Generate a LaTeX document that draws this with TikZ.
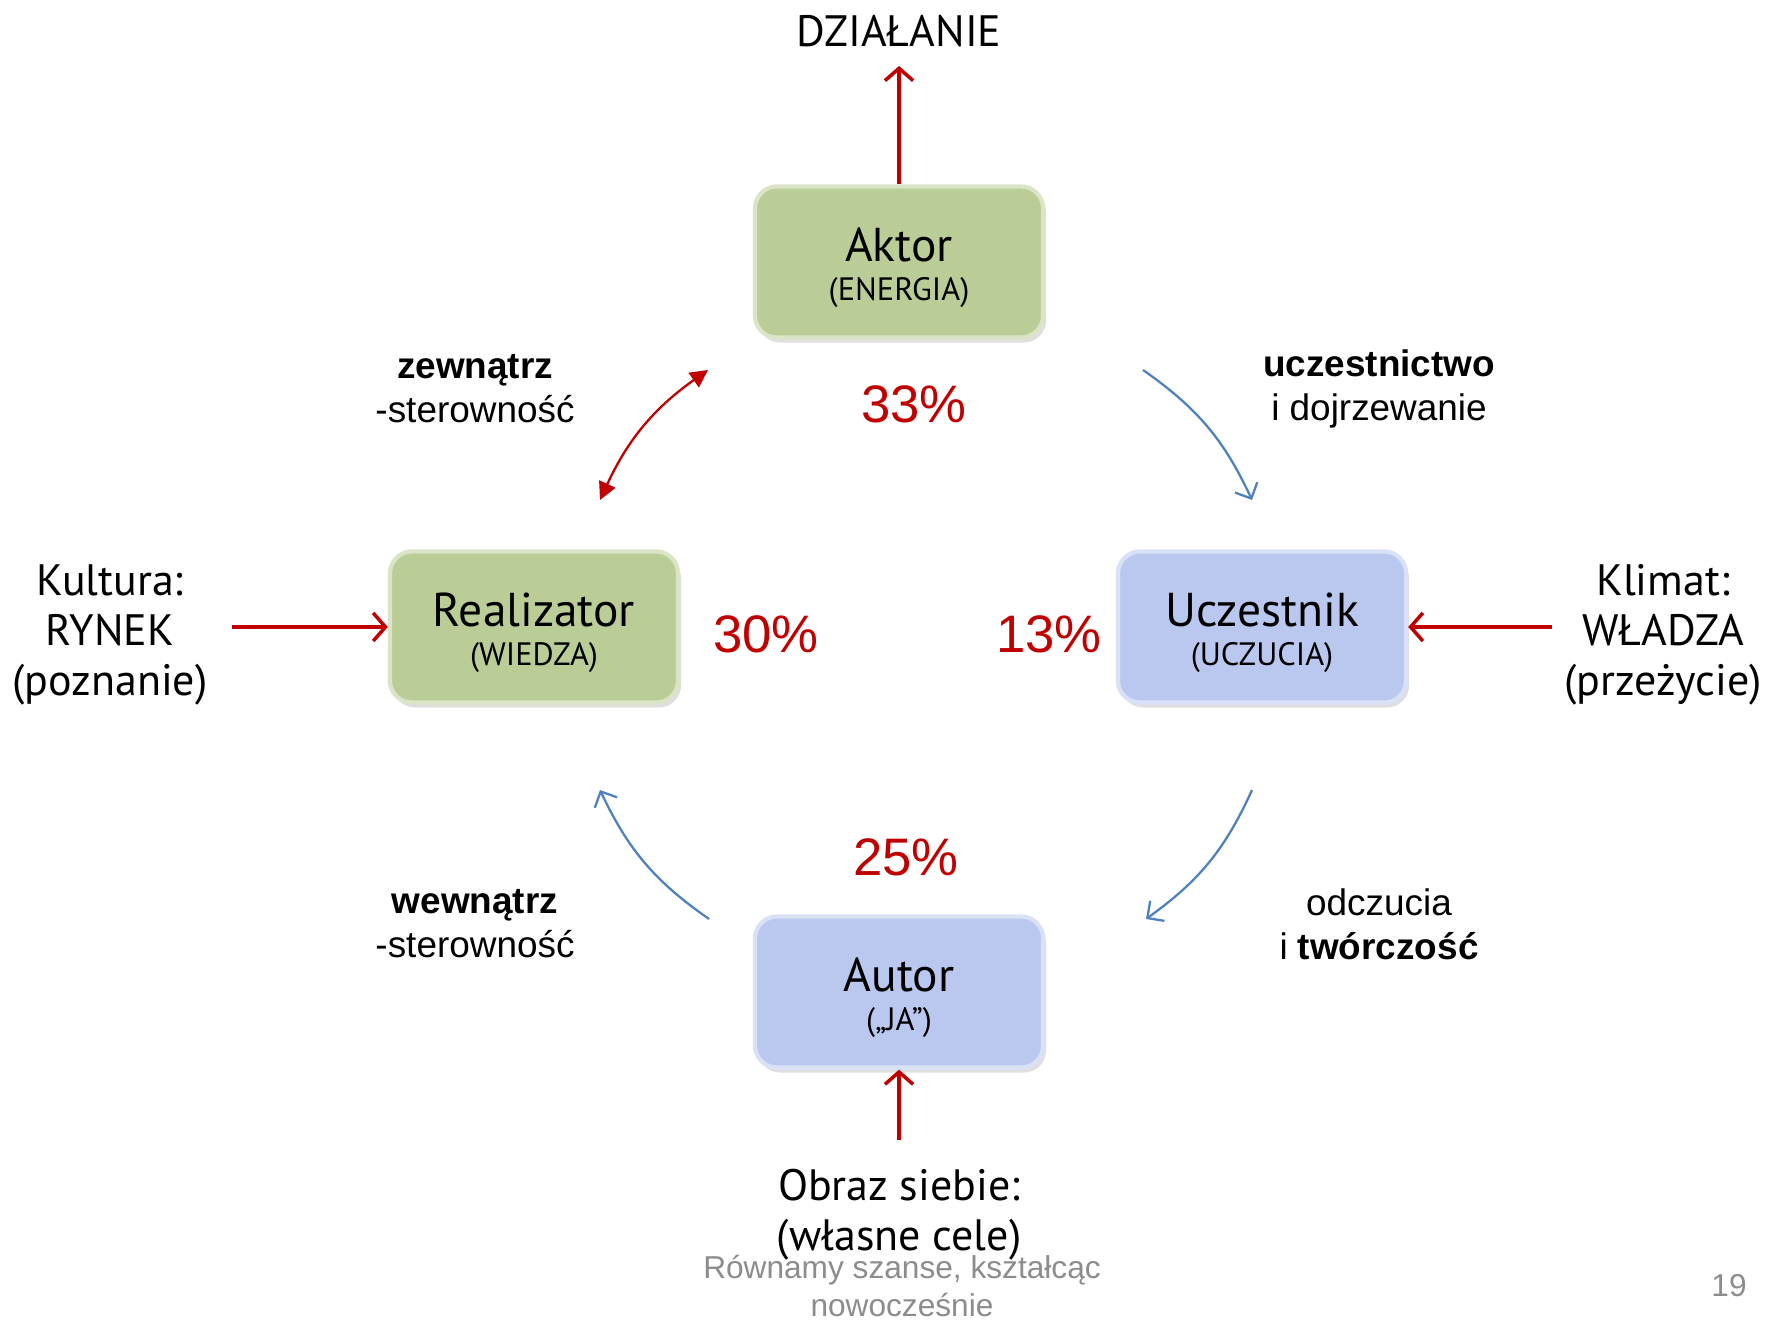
\documentclass[tikz,border=0pt]{standalone}
\usepackage{fontspec}
\setmainfont{PT Sans}
\newfontfamily\arialfont{Liberation Sans}
\usetikzlibrary{arrows,%
                arrows.meta,%
                shadows}
\definecolor{boxgreen}{RGB}{187,205,151}
\definecolor{boxblue}{RGB}{186,200,240}
\definecolor{arrred}{RGB}{192,0,0}
\definecolor{arrblue}{RGB}{79,129,189}
\definecolor{footgray}{RGB}{140,140,140}

\begin{document}
\begin{tikzpicture}[x=0.01cm,y=0.01cm]
  \useasboundingbox (0,0) rectangle (1774,1319);

\tikzstyle{Box}=[rounded corners=0.22cm, minimum width=2.88cm, minimum height=1.51cm,
                 align=center, line width=1.2pt,
                 drop shadow={opacity=0.25, shadow xshift=0.03cm, shadow yshift=-0.05cm},
                 font=\fontsize{9.2}{11}\selectfont]
\tikzstyle{GreenBox}=[Box, fill=boxgreen, draw=boxgreen!55!white]
\tikzstyle{BlueBox}=[Box, fill=boxblue, draw=boxblue!55!white]
\tikzstyle{Outer}=[align=center, font=\fontsize{12.5}{14.2}\selectfont]
\tikzstyle{Percent}=[text=arrred, font=\arialfont\fontsize{15}{18}\selectfont]
\tikzstyle{Label}=[align=center, font=\arialfont\fontsize{10.5}{12.5}\selectfont]
\tikzstyle{Foot}=[align=center, text=footgray, font=\arialfont\fontsize{9}{10.8}\selectfont]
\tikzstyle{RedEdge}=[-{Straight Barb[length=3.5pt,width=8pt]}, draw=arrred, line width=1pt]
\tikzstyle{RedBoth}=[{Triangle[length=5pt,width=5pt]}-{Triangle[length=5pt,width=5pt]}, draw=arrred, line width=0.65pt]
\tikzstyle{BlueEdge}=[-{Straight Barb[length=3.5pt,width=7pt]}, draw=arrblue, line width=0.65pt]

  % four roles
  \node[GreenBox] (aktor) at (899,1057) {{\fontsize{13.5}{15}\selectfont\rule{0pt}{13pt}Aktor}\\(ENERGIA)};
  \node[GreenBox] (realizator) at (534,692) {{\fontsize{13.5}{15}\selectfont\rule{0pt}{13pt}Realizator}\\(WIEDZA)};
  \node[BlueBox] (uczestnik) at (1262,692) {{\fontsize{13.5}{15}\selectfont\rule{0pt}{13pt}Uczestnik}\\(UCZUCIA)};
  \node[BlueBox] (autor) at (899,327) {{\fontsize{13.5}{15}\selectfont\rule{0pt}{13pt}Autor}\\(„JA”)};

  % outer texts
  \node[Outer] (dzialanie) at (899,1288) {DZIAŁANIE};
  \node[Outer] (kultura) at (110,684) {Kultura:\\RYNEK\\(poznanie)};
  \node[Outer] (klimat) at (1663,684) {Klimat:\\WŁADZA\\(przeżycie)};
  \node[Outer] (obraz) at (899,104) {Obraz siebie:\\(własne cele)};

  % percentages
  \node[Percent] (p33) at (914,915) {33\%};
  \node[Percent] (p30) at (766,685) {30\%};
  \node[Percent] (p13) at (1049,685) {13\%};
  \node[Percent] (p25) at (906,462) {25\%};

  % labels on the circle
  \node[Label] (zewn) at (475,930) {\textbf{zewnątrz}\\-sterowność};
  \node[Label] (uczest) at (1379,930) {\textbf{uczestnictwo}\\i dojrzewanie};
  \node[Label] (wewn) at (475,395) {\textbf{wewnątrz}\\-sterowność};
  \node[Label] (odcz) at (1379,395) {odczucia\\i \textbf{twórczość}};

  \node[Foot] (foot) at (902,33) {Równamy szanse, kształcąc\\nowocześnie};
  \node[Foot] (page) at (1729,33) {19};

  % arrow ends
  \coordinate (dzTip) at (899,1253);
  \coordinate (kuStart) at (232,692);
  \coordinate (klStart) at (1552,692);
  \coordinate (obStart) at (899,179);
  \coordinate (zA) at (600,819);
  \coordinate (zB) at (708,949);
  \coordinate (uA) at (1143,949);
  \coordinate (uB) at (1252,819);
  \coordinate (oA) at (1252,529);
  \coordinate (oB) at (1146,400);
  \coordinate (wA) at (709,400);
  \coordinate (wB) at (600,529);

  \draw[RedEdge] (aktor) -- (dzTip);
  \draw[RedEdge] (kuStart) -- (realizator);
  \draw[RedEdge] (klStart) -- (uczestnik);
  \draw[RedEdge] (obStart) -- (autor);

  \draw[RedBoth] (zA) to[bend left=15] (zB);
  \draw[BlueEdge] (uA) to[bend left=15] (uB);
  \draw[BlueEdge] (oA) to[bend left=15] (oB);
  \draw[BlueEdge] (wA) to[bend left=15] (wB);
\end{tikzpicture}
\end{document}
